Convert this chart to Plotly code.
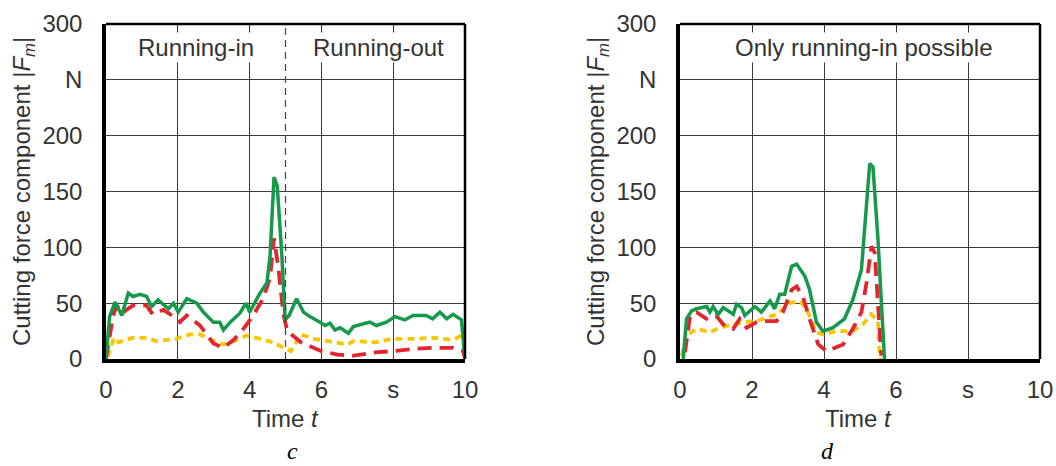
import plotly.graph_objects as go
from plotly.subplots import make_subplots

# ---- Panel c data ----
c_green_t = [0.0, 0.1, 0.25, 0.44, 0.62, 0.75, 0.95, 1.13, 1.27, 1.45, 1.74, 1.88, 2.01, 2.25, 2.53, 2.71, 2.99, 3.17, 3.27, 3.46,
             3.73, 3.9, 4.0, 4.29, 4.48, 4.57, 4.68, 4.77, 4.9, 4.99, 5.1, 5.31, 5.5, 5.68, 5.96, 6.1, 6.24, 6.38, 6.52, 6.75,
             6.89, 7.35, 7.53, 7.81, 8.05, 8.32, 8.55, 8.92, 9.1, 9.3, 9.49, 9.67, 9.9, 10.0]
c_green_f = [0, 38, 51, 39, 59, 56, 58, 56, 47, 53, 45, 50, 42, 54, 50, 42, 33, 33, 26, 33,
             41, 50, 42, 59, 68, 92, 163, 155, 92, 35, 39, 54, 42, 38, 33, 30, 32, 26, 28, 23,
             29, 33, 30, 33, 38, 35, 39, 39, 36, 42, 36, 40, 35, 0]

c_red_t = [0.0, 0.2, 0.3, 0.44, 0.75, 1.13, 1.3, 1.6, 1.88, 2.06, 2.25, 2.62, 2.99, 3.27, 3.55, 3.83, 4.1, 4.39, 4.57, 4.68,
           4.8, 4.94, 5.05, 5.43, 6.0, 6.45, 6.9, 7.5, 8.0, 8.55, 9.1, 9.67, 9.95, 10.0]
c_red_f = [0, 39, 48, 41, 48, 48, 40, 44, 38, 33, 39, 30, 14, 10, 17, 27, 39, 55, 73, 108,
           82, 40, 25, 15, 7, 4, 3, 6, 7, 9, 10, 10, 7, 0]

c_yel_t = [0.05, 0.22, 0.35, 0.75, 1.13, 1.4, 1.67, 1.95, 2.34, 2.62, 3.0, 3.27, 3.55, 3.92, 4.3, 4.66, 4.94, 5.15, 5.43, 5.8,
           6.18, 6.73, 6.9, 7.5, 8.0, 8.55, 9.1, 9.67, 9.95, 10.0]
c_yel_f = [2, 19, 15, 19, 19, 16, 17, 18, 22, 22, 16, 13, 16, 21, 18, 15, 10, 7, 22, 18,
           16, 13, 16, 15, 18, 18, 19, 17, 22, 7]

# ---- Panel d data ----
d_green_t = [0.09, 0.18, 0.32, 0.46, 0.74, 0.83, 0.92, 1.06, 1.2, 1.48, 1.57, 1.71, 1.8, 2.08, 2.26, 2.5, 2.63, 2.77, 2.91, 3.1,
             3.24, 3.47, 3.6, 3.79, 3.97, 4.25, 4.57, 4.8, 5.04, 5.18, 5.27, 5.36, 5.5, 5.59, 5.68]
d_green_f = [0, 36, 43, 45, 47, 42, 47, 40, 46, 40, 49, 46, 39, 47, 42, 52, 45, 58, 58, 83,
             85, 74, 62, 33, 25, 28, 36, 53, 80, 137, 175, 172, 107, 53, 0]

d_red_t = [0.14, 0.28, 0.46, 0.74, 1.0, 1.2, 1.48, 1.66, 1.85, 2.13, 2.4, 2.68, 2.86, 3.1, 3.24, 3.42, 3.6, 3.84, 4.07, 4.53,
           4.8, 5.04, 5.18, 5.32, 5.41, 5.5, 5.59]
d_red_f = [6, 39, 42, 36, 39, 31, 27, 36, 28, 33, 34, 34, 42, 62, 65, 55, 36, 13, 7, 13,
           27, 42, 68, 101, 95, 53, 3]

d_yel_t = [0.05, 0.18, 0.46, 0.83, 1.1, 1.39, 1.75, 2.13, 2.4, 2.68, 3.05, 3.33, 3.51, 3.79, 3.97, 4.34, 4.8, 5.08, 5.31, 5.5, 5.55]
d_yel_f = [3, 21, 27, 24, 28, 30, 33, 34, 37, 40, 50, 52, 45, 24, 22, 25, 25, 31, 40, 34, 0]

y_tickvals = [0, 50, 100, 150, 200, 250, 300]
y_ticktext = ["0", "50", "100", "150", "200", "N", "300"]
x_tickvals = [0, 2, 4, 6, 8, 10]
x_ticktext = ["0", "2", "4", "6", "s", "10"]

GREEN = "#16994a"
RED = "#e3262e"
YELLOW = "#f7c600"
FONT = "Liberation Sans, Arial, sans-serif"
TXT = "#333333"
FS = 24

W, H = 1056, 466

def px(x):
    return x / W

def py(y):
    return 1 - y / H

fig = make_subplots(rows=1, cols=2)

def add_panel(col, gt, gf, rt, rf, yt, yf):
    fig.add_trace(go.Scatter(x=yt, y=yf, mode="lines", line=dict(color=YELLOW, width=3.8, dash="7px,5px"),
                             showlegend=False), row=1, col=col)
    fig.add_trace(go.Scatter(x=rt, y=rf, mode="lines", line=dict(color=RED, width=3.8, dash="14px,8px"),
                             showlegend=False), row=1, col=col)
    fig.add_trace(go.Scatter(x=gt, y=gf, mode="lines", line=dict(color=GREEN, width=3.5),
                             showlegend=False), row=1, col=col)

add_panel(1, c_green_t, c_green_f, c_red_t, c_red_f, c_yel_t, c_yel_f)
add_panel(2, d_green_t, d_green_f, d_red_t, d_red_f, d_yel_t, d_yel_f)

axis_common = dict(showgrid=True, gridcolor="#3a3a3a", gridwidth=1.2, zeroline=False,
                   showline=True, linecolor="black", linewidth=3.5, ticks="", automargin=False,
                   tickfont=dict(family=FONT, size=FS, color=TXT))

fig.update_xaxes(range=[0, 10], tickvals=x_tickvals, ticktext=x_ticktext, ticklabelstandoff=6, **axis_common)
fig.update_yaxes(range=[0, 300], tickvals=y_tickvals, ticktext=y_ticktext, ticklabelstandoff=15, **axis_common)

fig.update_layout(
    width=W, height=H,
    margin=dict(l=0, r=0, t=0, b=0),
    plot_bgcolor="white", paper_bgcolor="white",
    xaxis=dict(domain=[px(106), px(465)]),
    xaxis2=dict(domain=[px(680), px(1040)]),
    yaxis=dict(domain=[py(359), py(24)]),
    yaxis2=dict(domain=[py(359), py(24)]),
)

# top/right frame (thinner)
for xr, yr in (("x", "y"), ("x2", "y2")):
    fig.add_shape(type="line", xref=xr + " domain", yref=yr + " domain", x0=0, x1=1, y0=1, y1=1,
                  line=dict(color="black", width=2.5))
    fig.add_shape(type="line", xref=xr + " domain", yref=yr + " domain", x0=1, x1=1, y0=0, y1=1,
                  line=dict(color="black", width=2.5))

# dashed separator at t = 5
fig.add_shape(type="line", xref="x", yref="y", x0=5, x1=5, y0=0, y1=300,
              line=dict(color="#444444", width=1.2, dash="7px,5px"))

ann_font = dict(family=FONT, size=FS, color=TXT)
fig.add_annotation(x=2.5, y=279, xref="x", yref="y", text="Running-in", showarrow=False, font=ann_font,
                   bgcolor="white")
fig.add_annotation(x=7.6, y=279, xref="x", yref="y", text="Running-out", showarrow=False, font=ann_font,
                   bgcolor="white")
fig.add_annotation(x=5.1, y=279, xref="x2", yref="y2", text="Only running-in possible", showarrow=False,
                   font=ann_font, bgcolor="white")

# axis titles
ytitle = "Cutting force component |<i>F<sub>m</sub></i>|"
for xc in (23, 597):
    fig.add_annotation(x=px(xc), y=py(192), xref="paper", yref="paper", text=ytitle, textangle=-90,
                       showarrow=False, font=ann_font, xanchor="center", yanchor="middle")
for xc in (285, 858):
    fig.add_annotation(x=px(xc), y=py(418), xref="paper", yref="paper", text="Time <i>t</i>",
                       showarrow=False, font=ann_font, xanchor="center", yanchor="middle")

cap_font = dict(family="Liberation Serif, Times New Roman, serif", size=FS, color="black")
fig.add_annotation(x=px(285), y=0, xref="paper", yref="paper", text="<i>c</i>", showarrow=False,
                   font=cap_font, yanchor="bottom")
fig.add_annotation(x=px(836), y=0, xref="paper", yref="paper", text="<i>d</i>", showarrow=False,
                   font=cap_font, yanchor="bottom")

fig.write_html("out.html", config={"displayModeBar": False},
               post_script="document.body.style.margin='0';document.body.style.overflow='hidden';")
